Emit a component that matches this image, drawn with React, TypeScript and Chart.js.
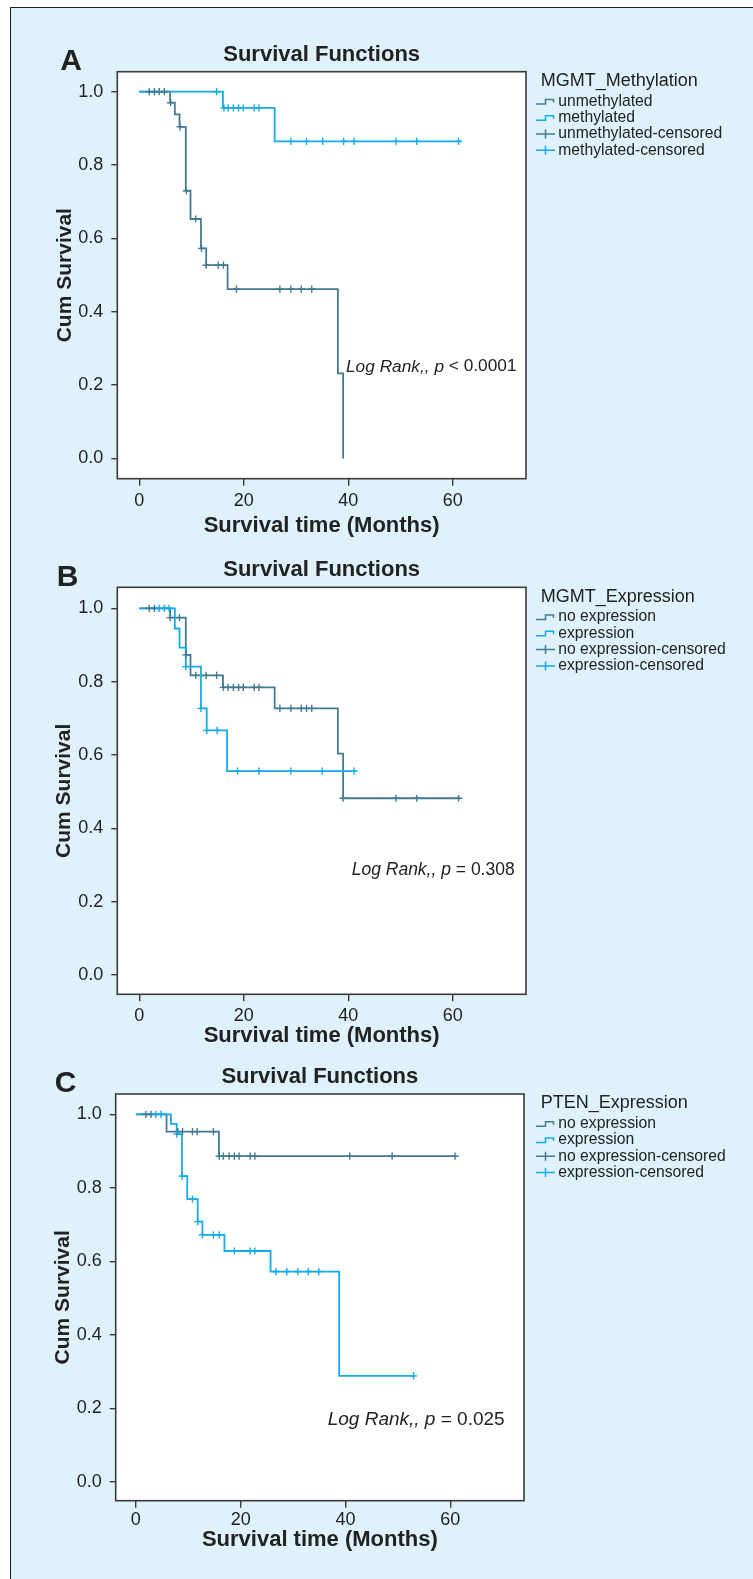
import React, { useEffect, useRef } from 'react';
import { Chart, registerables } from 'chart.js';

Chart.register(...registerables);

const FONT = '"Liberation Sans", Arial, Helvetica, sans-serif';
const DARK = '#437b92';
const LIGHT = '#14ace8';
const TEXT = '#222222';

const X_TICKS = [0, 20, 40, 60];
const Y_TICKS = [0, 0.2, 0.4, 0.6, 0.8, 1.0];

// ---------- Panel A : MGMT_Methylation ----------
const A_UNMETH_TIMES = [0, 5.9, 6.8, 7.7, 8.9, 9.8, 11.8, 12.8, 16.9, 38.0, 39.0];
const A_UNMETH_SURV = [1, 0.970, 0.938, 0.904, 0.730, 0.653, 0.573, 0.527, 0.462, 0.232, 0];
const A_UNMETH_CENS = [1.9, 2.9, 3.8, 4.8, 6.0, 7.8, 9.0, 10.8, 11.9, 12.8, 15.1, 16.1, 18.6, 26.9, 29.0, 31.0, 33.0];
const A_METH_TIMES = [0, 16.0, 25.9, 61.6];
const A_METH_SURV = [1, 0.956, 0.8645, 0.8645];
const A_METH_CENS = [14.8, 16.2, 17.0, 18.0, 19.0, 19.9, 22.0, 22.9, 29.0, 32.0, 35.1, 39.1, 41.1, 49.1, 53.1, 61.1];

// ---------- Panel B : MGMT_Expression ----------
const B_NOEXP_TIMES = [0, 5.9, 8.9, 9.8, 16.0, 25.9, 38.0, 39.0, 61.4];
const B_NOEXP_SURV = [1, 0.9745, 0.873, 0.817, 0.7845, 0.727, 0.6036, 0.482, 0.482];
const B_NOEXP_CENS = [1.9, 2.9, 5.9, 7.7, 8.9, 10.8, 12.8, 14.8, 16.1, 17.0, 18.0, 19.0, 19.9, 22.0, 22.9, 26.9, 29.0, 31.0, 32.0, 33.0, 39.0, 49.1, 53.1, 61.1];
const B_EXP_TIMES = [0, 6.8, 7.7, 8.9, 11.8, 12.9, 16.8, 41.6];
const B_EXP_SURV = [1, 0.945, 0.893, 0.841, 0.727, 0.667, 0.556, 0.556];
const B_EXP_CENS = [3.8, 4.8, 5.7, 8.9, 11.8, 12.9, 14.9, 18.8, 22.9, 29.0, 35.0, 41.1];

// ---------- Panel C : PTEN_Expression ----------
const C_NOEXP_TIMES = [0, 5.85, 15.85, 61.1];
const C_NOEXP_SURV = [1, 0.953, 0.886, 0.886];
const C_NOEXP_CENS = [1.9, 2.9, 8.0, 8.9, 10.8, 11.7, 14.8, 15.9, 16.7, 17.8, 18.8, 19.7, 21.8, 22.7, 40.8, 48.9, 60.9];
const C_EXP_TIMES = [0, 6.7, 7.8, 8.8, 9.8, 11.8, 12.7, 16.9, 25.7, 38.8, 53.2];
const C_EXP_SURV = [1, 0.974, 0.946, 0.832, 0.769, 0.708, 0.672, 0.628, 0.572, 0.288, 0.288];
const C_EXP_CENS = [3.8, 4.8, 7.8, 8.8, 10.8, 11.8, 12.7, 14.8, 15.9, 18.8, 21.8, 22.7, 26.7, 28.8, 30.9, 32.9, 34.9, 53.0];

const LABELS_METH = ['unmethylated', 'methylated', 'unmethylated-censored', 'methylated-censored'];
const LABELS_EXP = ['no expression', 'expression', 'no expression-censored', 'expression-censored'];

function stepData(times: number[], surv: number[]) {
  return times.map((t, i) => ({ x: t, y: surv[i] }));
}
function censorData(cens: number[], times: number[], surv: number[]) {
  return cens.map((t) => {
    let s = surv[0];
    for (let i = 0; i < times.length; i++) if (times[i] <= t + 1e-9) s = surv[i];
    return { x: t, y: s };
  });
}

type Panel = {
  canvasTop: number; canvasH: number;
  frameLeft: number; frameRight: number; frameTop: number; frameBottom: number;
  xMin: number; xMax: number; yMin: number; yMax: number;
  xLabelPad: number; xTitleOffset: number;
  letter: string; letterX: number; yTitleX: number;
  legendTitle: string; legendLabels: string[]; legendX: number;
  pText: string; annotX: number; annotY: number; annotSize: number;
  darkT: number[]; darkS: number[]; darkC: number[];
  lightT: number[]; lightS: number[]; lightC: number[];
};

const PANELS: Panel[] = [
  {
    canvasTop: 28, canvasH: 517,
    frameLeft: 117.3, frameRight: 526, frameTop: 71.7, frameBottom: 478.7,
    xMin: -4.21, xMax: 74.0, yMin: -0.055, yMax: 1.0545,
    xLabelPad: 5, xTitleOffset: 47.3,
    letter: 'A', letterX: 71, yTitleX: 65,
    legendTitle: 'MGMT_Methylation', legendLabels: LABELS_METH, legendX: 540.7,
    pText: ' < 0.0001', annotX: 346, annotY: 366.7, annotSize: 17.3,
    darkT: A_UNMETH_TIMES, darkS: A_UNMETH_SURV, darkC: A_UNMETH_CENS,
    lightT: A_METH_TIMES, lightS: A_METH_SURV, lightC: A_METH_CENS,
  },
  {
    canvasTop: 545, canvasH: 515,
    frameLeft: 117.3, frameRight: 526, frameTop: 587.3, frameBottom: 994.3,
    xMin: -4.21, xMax: 74.0, yMin: -0.0526, yMax: 1.0573,
    xLabelPad: 3.5, xTitleOffset: 41.5,
    letter: 'B', letterX: 67.5, yTitleX: 64,
    legendTitle: 'MGMT_Expression', legendLabels: LABELS_EXP, legendX: 540.7,
    pText: ' = 0.308', annotX: 351.7, annotY: 870, annotSize: 17.5,
    darkT: B_NOEXP_TIMES, darkS: B_NOEXP_SURV, darkC: B_NOEXP_CENS,
    lightT: B_EXP_TIMES, lightS: B_EXP_SURV, lightC: B_EXP_CENS,
  },
  {
    canvasTop: 1060, canvasH: 519,
    frameLeft: 115.7, frameRight: 524, frameTop: 1094, frameBottom: 1500.7,
    xMin: -3.85, xMax: 74.06, yMin: -0.0517, yMax: 1.0553,
    xLabelPad: 1.5, xTitleOffset: 39.5,
    letter: 'C', letterX: 65.5, yTitleX: 63,
    legendTitle: 'PTEN_Expression', legendLabels: LABELS_EXP, legendX: 540.7,
    pText: ' = 0.025', annotX: 327.7, annotY: 1420, annotSize: 19,
    darkT: C_NOEXP_TIMES, darkS: C_NOEXP_SURV, darkC: C_NOEXP_CENS,
    lightT: C_EXP_TIMES, lightS: C_EXP_SURV, lightC: C_EXP_CENS,
  },
];

function makePlugin(p: Panel) {
  const oy = p.canvasTop;
  return {
    id: 'panelDecor' + p.letter,
    beforeDraw(chart: any) {
      const { ctx, chartArea: a } = chart;
      ctx.save();
      ctx.fillStyle = '#ffffff';
      ctx.fillRect(a.left, a.top, a.right - a.left, a.bottom - a.top);
      ctx.restore();
    },
    afterDraw(chart: any) {
      const { ctx, chartArea: a } = chart;
      ctx.save();
      ctx.strokeStyle = '#3a3a3a';
      ctx.lineWidth = 1.6;
      ctx.strokeRect(a.left, a.top, a.right - a.left, a.bottom - a.top);

      ctx.fillStyle = TEXT;
      ctx.font = `bold 30px ${FONT}`;
      ctx.textAlign = 'center';
      ctx.textBaseline = 'alphabetic';
      ctx.fillText(p.letter, p.letterX, a.top - 1.7);

      ctx.font = `bold 22px ${FONT}`;
      ctx.textBaseline = 'middle';
      ctx.fillText('Survival Functions', (a.left + a.right) / 2, a.top - 17);

      ctx.textAlign = 'left';
      ctx.font = `18px ${FONT}`;
      ctx.fillText(p.legendTitle, p.legendX, a.top + 9.5);
      ctx.font = `15.7px ${FONT}`;
      const gx = p.legendX - 4.7;
      p.legendLabels.forEach((lab, i) => {
        const y = a.top + 29.7 + 16.3 * i;
        const col = i % 2 === 0 ? DARK : LIGHT;
        ctx.strokeStyle = col;
        ctx.lineWidth = 1.5;
        ctx.beginPath();
        if (i < 2) {
          ctx.moveTo(gx, y + 2.5);
          ctx.lineTo(gx + 9.5, y + 2.5);
          ctx.lineTo(gx + 9.5, y - 2);
          ctx.lineTo(gx + 17.5, y - 2);
          ctx.lineTo(gx + 17.5, y + 1);
        } else {
          ctx.moveTo(gx, y);
          ctx.lineTo(gx + 19, y);
          ctx.moveTo(gx + 9.5, y - 4.5);
          ctx.lineTo(gx + 9.5, y + 4.5);
        }
        ctx.stroke();
        ctx.fillStyle = TEXT;
        ctx.fillText(lab, p.legendX + 17.6, y);
      });

      let x = p.annotX;
      const ay = p.annotY - oy;
      ctx.font = `italic ${p.annotSize}px ${FONT}`;
      const t1 = 'Log Rank,, p';
      ctx.fillText(t1, x, ay);
      x += ctx.measureText(t1).width;
      ctx.font = `${p.annotSize}px ${FONT}`;
      ctx.fillText(p.pText, x, ay);
      ctx.restore();
    },
  };
}

function KMPanel({ p }: { p: Panel }) {
  const ref = useRef<HTMLCanvasElement | null>(null);
  useEffect(() => {
    if (!ref.current) return;
    const xTitlePad = p.canvasH - (p.frameBottom + p.xTitleOffset - p.canvasTop) - 13.2;
    const chart = new Chart(ref.current, {
      type: 'line',
      data: {
        datasets: [
          {
            label: p.legendLabels[0], data: stepData(p.darkT, p.darkS), stepped: 'before',
            borderColor: DARK, borderWidth: 1.8, pointRadius: 0, fill: false, order: 4,
          },
          {
            label: p.legendLabels[1], data: stepData(p.lightT, p.lightS), stepped: 'before',
            borderColor: LIGHT, borderWidth: 1.8, pointRadius: 0, fill: false, order: 3,
          },
          {
            label: p.legendLabels[2], data: censorData(p.darkC, p.darkT, p.darkS), showLine: false,
            pointStyle: 'cross', pointRadius: 3.6, pointBorderColor: DARK, pointBackgroundColor: DARK,
            pointBorderWidth: 1.4, borderColor: DARK, order: 2,
          },
          {
            label: p.legendLabels[3], data: censorData(p.lightC, p.lightT, p.lightS), showLine: false,
            pointStyle: 'cross', pointRadius: 3.6, pointBorderColor: LIGHT, pointBackgroundColor: LIGHT,
            pointBorderWidth: 1.4, borderColor: LIGHT, order: 1,
          },
        ] as any,
      },
      options: {
        responsive: false,
        maintainAspectRatio: false,
        animation: false,
        events: [],
        layout: {
          padding: { left: 0, right: 753 - p.frameRight, top: p.frameTop - p.canvasTop, bottom: 0 },
        },
        plugins: {
          legend: { display: false },
          title: { display: false },
          tooltip: { enabled: false },
        },
        scales: {
          x: {
            type: 'linear', position: 'bottom', min: p.xMin, max: p.xMax,
            afterBuildTicks: (s: any) => { s.ticks = X_TICKS.map((v) => ({ value: v })); },
            afterFit: (s: any) => { s.height = p.canvasTop + p.canvasH - p.frameBottom; },
            ticks: {
              autoSkip: false, maxRotation: 0, padding: p.xLabelPad, color: TEXT,
              font: { family: FONT, size: 18 },
              callback: (v: any) => String(v),
            },
            grid: { drawOnChartArea: false, drawTicks: true, tickLength: 7, color: '#3a3a3a', lineWidth: 1.4 },
            border: { display: false },
            title: {
              display: true, text: 'Survival time (Months)', color: TEXT,
              font: { family: FONT, size: 22, weight: 'bold' },
              padding: { top: 0, bottom: xTitlePad },
            },
          },
          y: {
            type: 'linear', position: 'left', min: p.yMin, max: p.yMax,
            afterBuildTicks: (s: any) => { s.ticks = Y_TICKS.map((v) => ({ value: v })); },
            afterFit: (s: any) => { s.width = p.frameLeft; },
            ticks: {
              padding: 8, color: TEXT,
              font: { family: FONT, size: 18 },
              callback: (v: any) => Number(v).toFixed(1),
            },
            grid: { drawOnChartArea: false, drawTicks: true, tickLength: 6, color: '#3a3a3a', lineWidth: 1.4 },
            border: { display: false },
            title: {
              display: true, text: 'Cum Survival', color: TEXT,
              font: { family: FONT, size: 21, weight: 'bold' },
              padding: { top: p.yTitleX - 12.6, bottom: 0 },
            },
          },
        },
      } as any,
      plugins: [makePlugin(p)],
    });
    return () => chart.destroy();
  }, [p]);
  return (
    <canvas
      ref={ref}
      width={753}
      height={p.canvasH}
      style={{ position: 'absolute', left: 0, top: p.canvasTop, width: 753, height: p.canvasH }}
    />
  );
}

export default function App() {
  return (
    <div style={{ position: 'absolute', left: 0, top: 0, width: 753, height: 1579, overflow: 'hidden', background: '#ffffff' }}>
      <div
        style={{
          position: 'absolute', left: 10, top: 7, width: 780, height: 1620,
          background: '#dff1fa', borderLeft: '1.5px solid #222', borderTop: '1.5px solid #222',
        }}
      />
      {PANELS.map((p) => (
        <KMPanel key={p.letter} p={p} />
      ))}
    </div>
  );
}
